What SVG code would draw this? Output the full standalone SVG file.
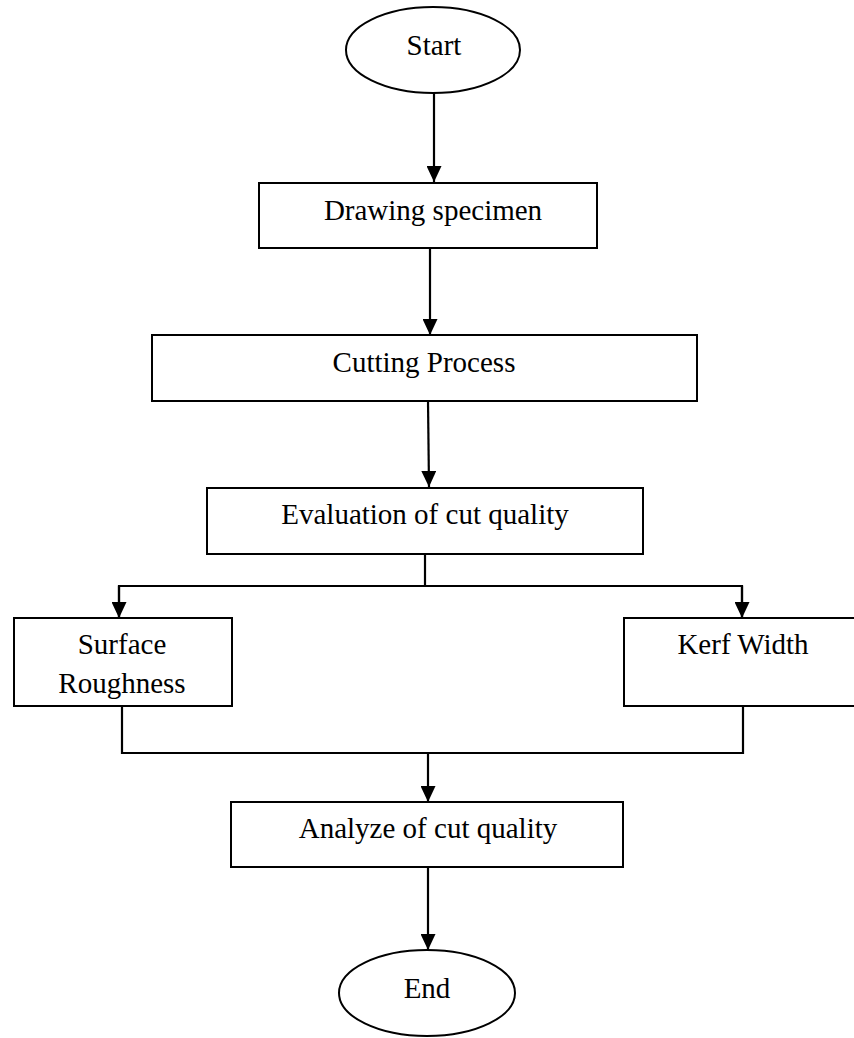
<svg xmlns="http://www.w3.org/2000/svg" width="854" height="1038" viewBox="0 0 854 1038">
<style>
.box{fill:#fff;stroke:#000;stroke-width:2}
.t{font-family:"Liberation Serif","Times New Roman",serif;font-size:29px;fill:#000;text-anchor:middle}
.c{fill:none;stroke:#000;stroke-width:2.2}
</style>
<defs>
<marker id="ah" markerUnits="userSpaceOnUse" markerWidth="16" markerHeight="15" refX="16" refY="7.5" orient="auto" viewBox="0 0 16 15">
<path d="M0,0 L16,7.5 L0,15 z" fill="#000"/>
</marker>
</defs>
<rect width="854" height="1038" fill="#fff"/>
<g id="connectors">
<line class="c" x1="434" y1="93" x2="434" y2="182" marker-end="url(#ah)"/>
<line class="c" x1="430" y1="248" x2="430" y2="335" marker-end="url(#ah)"/>
<line class="c" x1="428" y1="401" x2="429" y2="487" marker-end="url(#ah)"/>
<line class="c" x1="425" y1="554" x2="425" y2="586"/>
<polyline class="c" points="119,618 119,586 742,586 742,618"/>
<line class="c" x1="119" y1="586" x2="119" y2="618" marker-end="url(#ah)"/>
<line class="c" x1="742" y1="586" x2="742" y2="618" marker-end="url(#ah)"/>
<polyline class="c" points="122,706 122,753 743,753 743,706"/>
<line class="c" x1="428" y1="753" x2="428" y2="802" marker-end="url(#ah)"/>
<line class="c" x1="428" y1="867" x2="428" y2="950" marker-end="url(#ah)"/>
</g>
<g id="start">
<ellipse class="box" cx="433" cy="50" rx="87" ry="43"/>
<text class="t" x="434" y="55">Start</text>
</g>
<g id="drawing">
<rect class="box" x="259" y="183" width="338" height="65"/>
<text class="t" x="433" y="220">Drawing specimen</text>
</g>
<g id="cutting">
<rect class="box" x="152" y="335" width="545" height="66"/>
<text class="t" x="424" y="372">Cutting Process</text>
</g>
<g id="evaluation">
<rect class="box" x="207" y="488" width="436" height="66"/>
<text class="t" x="425" y="524">Evaluation of cut quality</text>
</g>
<g id="surface">
<rect class="box" x="14" y="618" width="218" height="88"/>
<text class="t" x="122" y="654">Surface</text>
<text class="t" x="122" y="693">Roughness</text>
</g>
<g id="kerf">
<rect class="box" x="624" y="618" width="250" height="88"/>
<text class="t" x="743" y="654">Kerf Width</text>
</g>
<g id="analyze">
<rect class="box" x="231" y="802" width="392" height="65"/>
<text class="t" x="428" y="838">Analyze of cut quality</text>
</g>
<g id="end">
<ellipse class="box" cx="427" cy="993" rx="88" ry="43"/>
<text class="t" x="427" y="998">End</text>
</g>
</svg>
